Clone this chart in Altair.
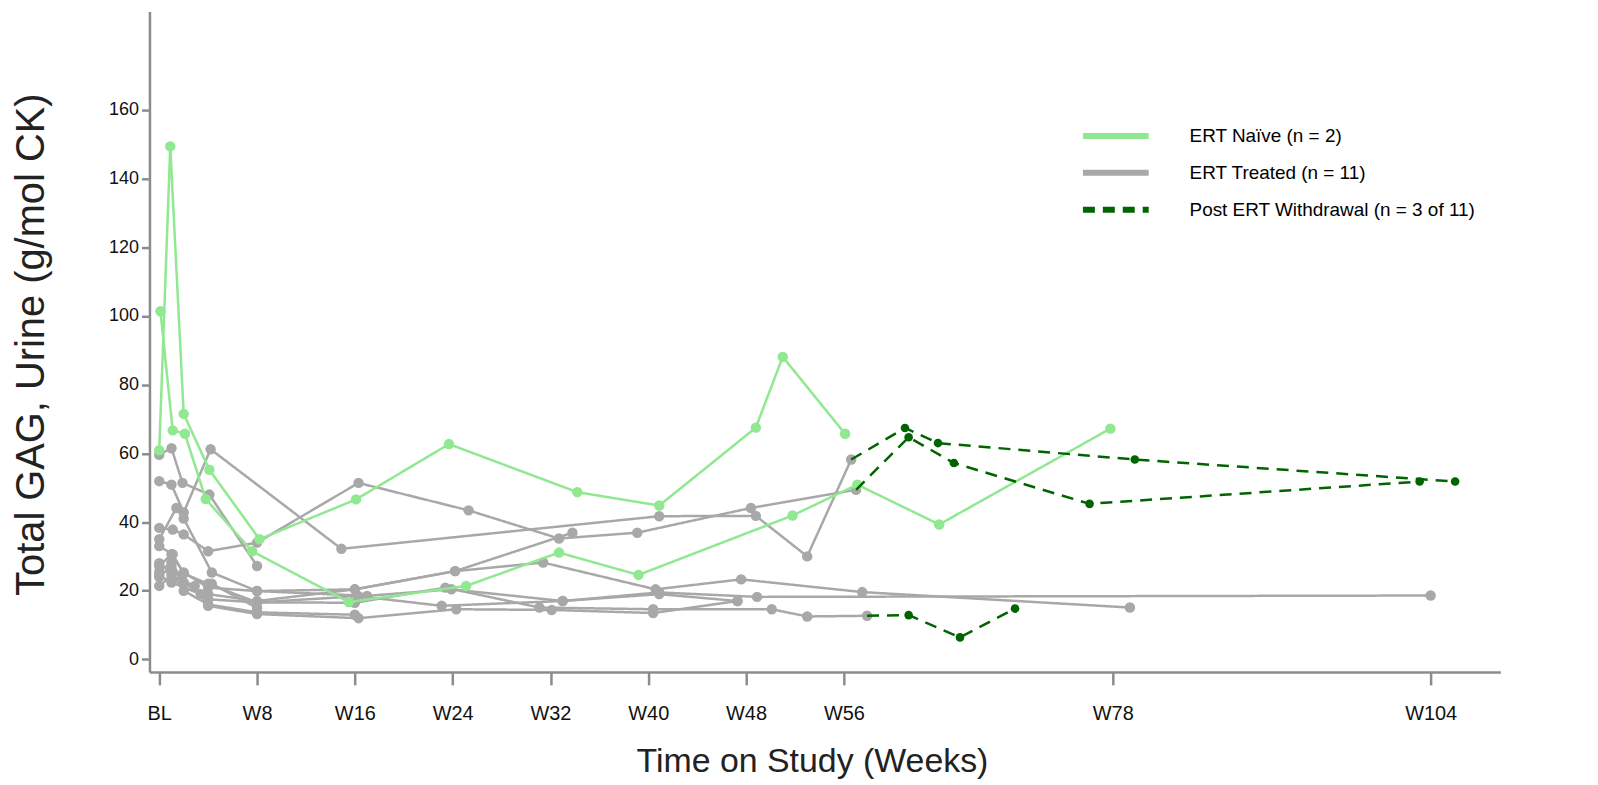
import altair as alt
import pandas as pd

# ---------------- data ----------------
GROUPS = ["ERT Naïve (n = 2)", "ERT Treated (n = 11)", "Post ERT Withdrawal (n = 3 of 11)"]
COLORS = ["#90E890", "#A8A8A8", "#006400"]

# ERT naive subjects
naive_weeks = [
    [0, 0.9, 2.0, 4.1, 8.2, 16.1, 23.7, 34.2, 40.9, 48.8, 51.0, 56.1],
    [0.1, 1.1, 2.1, 3.8, 7.6, 15.5, 25.1, 32.7, 39.2, 51.8, 57.1, 63.8, 77.8],
]
naive_values = [
    [60.9, 149.4, 71.5, 55.2, 35.0, 46.6, 62.7, 48.7, 44.8, 67.5, 88.1, 65.7],
    [101.4, 66.7, 65.7, 46.7, 31.5, 16.7, 21.4, 31.1, 24.6, 41.9, 50.9, 39.3, 67.2],
]

# ERT treated subjects
treated_weeks = [
    [0, 1.1, 2.0, 4.0, 8.0, 16.3, 25.3, 32.7, 39.1, 48.4, 57.0],
    [0, 1.0, 2.0, 4.2, 14.9, 40.9, 48.8, 53.0, 56.6],
    [0, 1.0, 1.9, 4.1, 8.0],
    [0, 1.4, 2.0, 4.3, 8.0, 16.0, 24.2, 31.4, 40.6, 47.6, 57.5, 79.4],
    [0, 1.0, 2.0, 4.0, 8.0, 17.0, 23.9, 33.0, 40.9, 48.9, 104.0],
    [0, 1.0, 2.0, 4.0, 8.0, 16.0, 23.4, 31.1, 40.4, 50.1, 53.0, 57.9],
    [0, 1.0, 2.9, 4.0, 8.0, 16.3, 24.3, 32.1, 40.4, 47.3],
    [0, 1.0, 2.0, 4.0, 8.0, 16.0, 24.2, 33.8],
    [0, 1.1, 2.0, 4.0, 8.0, 16.3, 23.1, 33.0, 40.9, 47.3],
    [0, 1.0, 2.0, 4.0, 8.0, 16.0],
    [0, 1.0, 3.4, 4.3, 8.0],
]
treated_values = [
    [38.3, 37.8, 36.4, 31.5, 34.0, 51.4, 43.4, 35.2, 36.9, 44.1, 49.4],
    [51.9, 50.9, 42.8, 61.2, 32.2, 41.7, 41.8, 30.0, 58.2],
    [59.6, 61.5, 51.4, 48.0, 27.2],
    [35.0, 44.1, 41.0, 25.3, 19.9, 20.4, 25.7, 28.2, 20.4, 23.3, 19.6, 15.1],
    [27.2, 30.6, 25.3, 20.9, 19.9, 18.5, 20.4, 17.0, 19.5, 18.2, 18.6],
    [25.5, 28.3, 22.4, 17.5, 16.6, 16.5, 20.9, 15.1, 14.6, 14.6, 12.5, 12.7],
    [21.4, 24.3, 21.4, 15.6, 13.2, 12.0, 14.6, 14.4, 13.5, 17.0],
    [24.0, 27.2, 22.0, 19.0, 17.0, 20.4, 25.7, 36.9],
    [33.0, 30.6, 25.0, 22.0, 16.6, 18.4, 15.6, 17.0, 19.0, 17.0],
    [28.0, 25.3, 20.0, 16.0, 13.7, 13.0],
    [24.5, 22.4, 19.0, 22.0, 15.0],
]

# post-withdrawal segments (first point = last on-treatment point)
withdrawal_weeks = [
    [56.6, 61.0, 63.7, 79.8, 106.0],
    [57.0, 61.3, 65.0, 76.1, 103.1],
    [57.9, 61.3, 65.5, 70.0],
]
withdrawal_values = [
    [58.2, 67.4, 63.0, 58.2, 51.8],
    [49.4, 64.7, 57.2, 45.3, 51.8],
    [12.7, 12.9, 6.4, 14.8],
]

X_TICKS = [0, 8, 16, 24, 32, 40, 48, 56, 78, 104]
X_LABELS = ["BL", "W8", "W16", "W24", "W32", "W40", "W48", "W56", "W78", "W104"]
Y_TICKS = [0, 20, 40, 60, 80, 100, 120, 140, 160]

# ---------------- table ----------------
rows = []
def add(group, prefix, weeks_list, vals_list, skip_first_point=False):
    for i, (ws, vs) in enumerate(zip(weeks_list, vals_list)):
        for j, (w, v) in enumerate(zip(ws, vs)):
            rows.append({
                "group": group, "sid": f"{prefix}{i}", "week": w, "value": v,
                "ord": j, "pt": not (skip_first_point and j == 0),
            })

add(GROUPS[1], "t", treated_weeks, treated_values)
add(GROUPS[0], "n", naive_weeks, naive_values)
add(GROUPS[2], "w", withdrawal_weeks, withdrawal_values, skip_first_point=True)
df = pd.DataFrame(rows)

label_expr = "{" + ",".join(f"'{t}':'{l}'" for t, l in zip(X_TICKS, X_LABELS)) + "}[datum.value]"

x_enc = alt.X(
    "week:Q",
    scale=alt.Scale(domain=[-0.8, 109.7], nice=False, zero=False),
    axis=alt.Axis(
        values=X_TICKS, labelExpr=label_expr, title="Time on Study (Weeks)",
        tickSize=13, labelPadding=19, labelFontSize=20, labelFlush=False,
        titleFontSize=34, titleX=665, titleY=90, titleBaseline="middle",
    ),
)
y_enc = alt.Y(
    "value:Q",
    scale=alt.Scale(domain=[-3.66, 188.7], nice=False, zero=False),
    axis=alt.Axis(
        values=Y_TICKS, title="Total GAG, Urine (g/mol CK)", tickSize=8,
        labelPadding=3, labelFontSize=18,
        titleFontSize=40, titleX=-118, titleY=334, titleBaseline="middle",
        titleAlign="center", titleAngle=-90,
    ),
)

# long horizontal legend swatch drawn as a custom path wider than its layout box
legend = alt.Legend(
    title=None, orient="none", legendX=956, legendY=111,
    symbolType="M-3,0H3", symbolSize=484, symbolStrokeWidth=6,
    labelFont="Liberation Sans", labelFontSize=19, labelColor="black",
    labelOffset=60, rowPadding=11, labelLimit=500,
)
color_enc = alt.Color("group:N", scale=alt.Scale(domain=GROUPS, range=COLORS), legend=legend)
dash_enc = alt.StrokeDash(
    "group:N",
    scale=alt.Scale(domain=GROUPS, range=[[1, 0], [1, 0], [12, 8]]),
    legend=legend,
)

base = alt.Chart(df)
layers = []
for g, c, ps in zip([GROUPS[1], GROUPS[0], GROUPS[2]],
                    [COLORS[1], COLORS[0], COLORS[2]],
                    [110, 110, 75]):
    sub = base.transform_filter(alt.datum.group == g)
    layers.append(
        sub.mark_line(strokeWidth=2.5).encode(
            x=x_enc, y=y_enc, color=color_enc, strokeDash=dash_enc,
            detail="sid:N", order="ord:Q",
        )
    )
    layers.append(
        sub.transform_filter(alt.datum.pt).mark_circle(size=ps, opacity=1).encode(
            x=x_enc, y=y_enc, color=alt.value(c),
        )
    )

chart = alt.layer(*layers).properties(
    width=1356, height=663,
    autosize=alt.AutoSizeParams(type="none"),
    padding={"left": 142, "top": 2, "right": 90, "bottom": 110},
).configure_view(stroke=None).configure_axis(
    grid=False, domainColor="#8C8C8C", domainWidth=2.5, tickColor="#8C8C8C",
    tickWidth=2.5, labelFont="Liberation Sans", titleFont="Liberation Sans",
    labelColor="#111", titleColor="#222", titleFontWeight="normal",
)

chart.save("out.html", embed_options={"renderer": "svg", "actions": False})
